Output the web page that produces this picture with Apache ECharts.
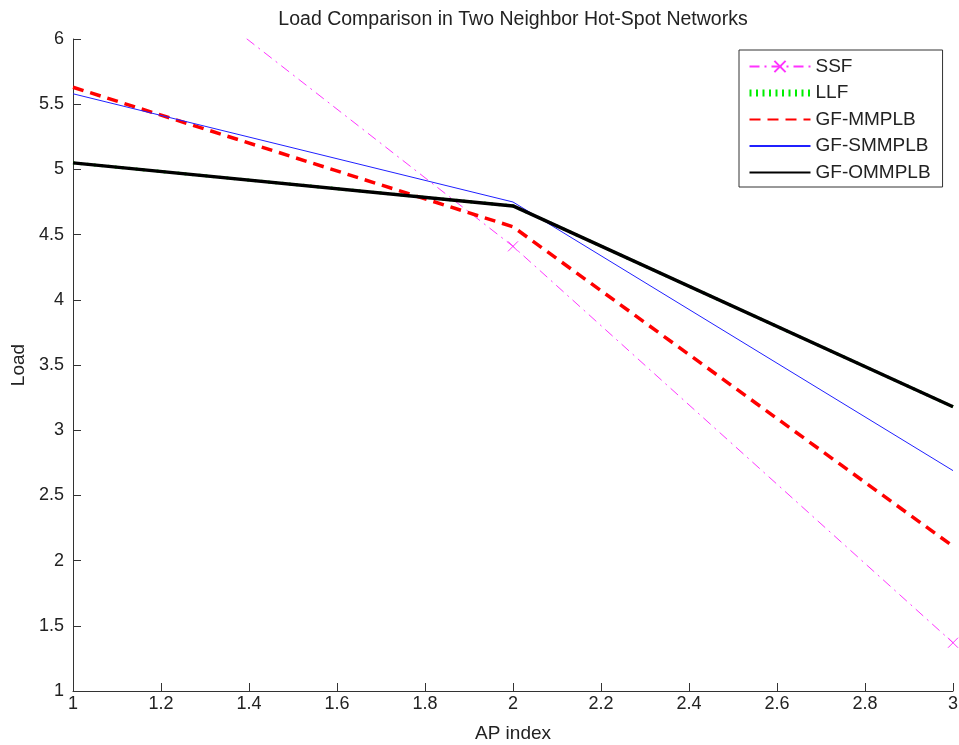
<!DOCTYPE html>
<html>
<head>
<meta charset="utf-8">
<script src="https://cdn.jsdelivr.net/npm/echarts@6/dist/echarts.min.js"></script>
<style>html,body{margin:0;padding:0;background:#fff;}#c{width:959px;height:745px;}</style>
</head>
<body>
<div id="c"></div>
<script>
const xValues = [1, 2, 3];
const ssf = [7.04, 4.41, 1.37];
const llf = [5.05, 4.72, 3.18];
const gfMMPLB = [5.63, 4.56, 2.11];
const gfSMMPLB = [5.58, 4.75, 2.69];
const gfOMMPLB = [5.05, 4.72, 3.18];
const seriesNames = ['SSF', 'LLF', 'GF-MMPLB', 'GF-SMMPLB', 'GF-OMMPLB'];
const xTicks = ['1','1.2','1.4','1.6','1.8','2','2.2','2.4','2.6','2.8','3'];
const yTicks = ['1','1.5','2','2.5','3','3.5','4','4.5','5','5.5','6'];

const pairs = arr => xValues.map((x, i) => [x, arr[i]]);
const font = 'Liberation Sans, Arial, sans-serif';
const txt = '#222';
const hidden = {color: 'rgba(0,0,0,0)', borderColor: 'rgba(0,0,0,0)', borderWidth: 0};
const chart = echarts.init(document.getElementById('c'), null, {renderer: 'canvas'});
chart.setOption({
  backgroundColor: '#fff',
  animation: false,
  title: {
    text: 'Load Comparison in Two Neighbor Hot-Spot Networks',
    left: 508, top: 5, textAlign: 'center',
    textStyle: {fontFamily: font, fontSize: 19.5, fontWeight: 'normal', color: txt}
  },
  grid: {left: 73, right: 6, top: 39, bottom: 54, containLabel: false, outerBoundsMode: 'none'},
  legend: {
    orient: 'vertical', left: 739, top: 50,
    padding: [7, 12, 5, 7],
    borderColor: '#333', borderWidth: 1, backgroundColor: '#fff',
    itemWidth: 61, itemHeight: 14, itemGap: 7.5,
    textStyle: {fontFamily: font, fontSize: 19, color: txt},
    data: seriesNames.map(n => {
      if (n === 'SSF') return {name: n};
      if (n === 'LLF') return {name: n, itemStyle: hidden, lineStyle: {width: 7, type: [2, 4.5]}};
      return {name: n, itemStyle: hidden};
    })
  },
  xAxis: {
    type: 'value', min: 1, max: 3, interval: 0.2,
    name: 'AP index', nameLocation: 'middle', nameGap: 33,
    nameTextStyle: {fontFamily: font, fontSize: 19, color: txt},
    axisLine: {show: true, lineStyle: {color: '#333', width: 1}},
    axisTick: {show: true, inside: true, length: 8, lineStyle: {color: '#333'}},
    axisLabel: {fontFamily: font, fontSize: 18, color: txt, margin: 4,
      formatter: v => xTicks[Math.round((v - 1) / 0.2)] ?? ''},
    splitLine: {show: false}
  },
  yAxis: {
    type: 'value', min: 1, max: 6, interval: 0.5,
    name: 'Load', nameLocation: 'middle', nameGap: 44, nameRotate: 90,
    nameTextStyle: {fontFamily: font, fontSize: 19, color: txt},
    axisLine: {show: true, lineStyle: {color: '#333', width: 1}},
    axisTick: {show: true, inside: true, length: 8, lineStyle: {color: '#333'}},
    axisLabel: {fontFamily: font, fontSize: 18, color: txt, margin: 9,
      formatter: v => yTicks[Math.round((v - 1) / 0.5)] ?? ''},
    splitLine: {show: false}
  },
  series: [
    {
      name: 'SSF', type: 'line', data: pairs(ssf), clip: true,
      symbol: 'path://M0,0L10,10M10,0L0,10', symbolSize: 10, showAllSymbol: true,
      itemStyle: {color: '#ff33ff', borderColor: '#ff33ff', borderWidth: 1},
      lineStyle: {color: '#ff33ff', width: 1, type: [10, 5, 2, 5]},
      z: 1
    },
    {
      name: 'LLF', type: 'line', data: pairs(llf), symbol: 'none',
      itemStyle: {color: '#00ee00'},
      lineStyle: {color: '#00ee00', width: 3, type: [2, 5]},
      z: 1
    },
    {
      name: 'GF-MMPLB', type: 'line', data: pairs(gfMMPLB), symbol: 'none',
      itemStyle: {color: '#ff0000'},
      lineStyle: {color: '#ff0000', width: 3.5, type: [11, 7]},
      z: 2
    },
    {
      name: 'GF-SMMPLB', type: 'line', data: pairs(gfSMMPLB), symbol: 'none',
      itemStyle: {color: '#0000ff'},
      lineStyle: {color: '#2020ff', width: 1},
      z: 3
    },
    {
      name: 'GF-OMMPLB', type: 'line', data: pairs(gfOMMPLB), symbol: 'none',
      itemStyle: {color: '#000'},
      lineStyle: {color: '#000', width: 3.5},
      z: 4
    }
  ]
});
</script>
</body>
</html>
